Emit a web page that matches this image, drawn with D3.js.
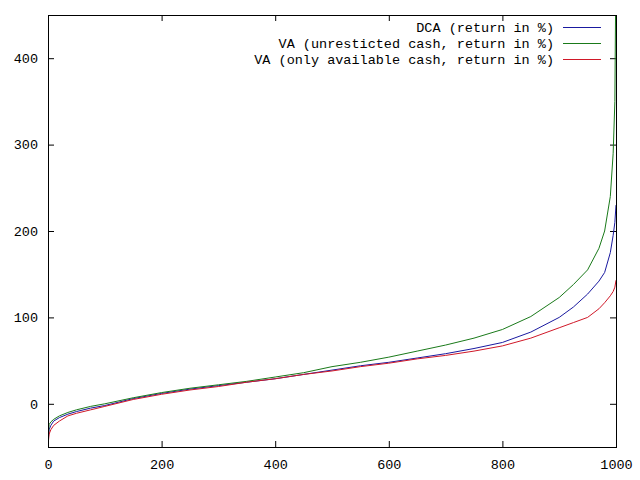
<!DOCTYPE html>
<html>
<head>
<meta charset="utf-8">
<script src="https://cdn.jsdelivr.net/npm/d3@7"></script>
<style>
  body { margin: 0; background: #fff; }
  text { font-family: "Liberation Mono", "DejaVu Sans Mono", monospace; font-size: 13.5px; fill: #000; }
</style>
</head>
<body>
<div id="chart"></div>
<script>
// sample index (the runs are sorted by return)
var run_index = [0, 2, 5, 10, 20, 35, 50, 75, 100, 150, 200, 250, 300, 350, 400, 450, 500,
                 550, 600, 650, 700, 750, 800, 850, 900, 925, 950, 970, 980, 990, 995, 998, 1000];
var dca_return = [-45, -30, -25, -20, -16, -12, -9, -5, -2, 6, 12, 17, 21, 25, 29, 34, 39,
                  44, 48, 53, 58, 64, 71, 83, 100, 112, 127, 142, 152, 175, 195, 210, 230];
var va_unrestricted = [-40, -24, -21, -18, -14, -10, -7, -3, 0, 7, 13, 18, 22, 26, 31, 36, 43,
                       48, 54, 61, 68, 76, 86, 101, 123, 138, 155, 180, 200, 240, 290, 350, 520];
var va_available = [-48, -35, -30, -25, -20, -14, -11, -7, -3, 5, 11, 16, 20, 25, 29, 34, 38,
                    43, 47, 52, 56, 61, 67, 76, 88, 94, 100, 110, 117, 125, 130, 135, 143];

var series_names = ["DCA (return in %)", "VA (unresticted cash, return in %)", "VA (only available cash, return in %)"];
var series_colors = ["#1a1aa0", "#1a7a1a", "#d01828"];
var x_ticks = [0, 200, 400, 600, 800, 1000];
var y_ticks = [0, 100, 200, 300, 400];

var series = [dca_return, va_unrestricted, va_available];

// set the dimensions and margins of the graph
var width = 640,
    height = 480,
    margin = {top: 15, right: 24, bottom: 33, left: 48};

var svg = d3.select("#chart")
  .append("svg")
    .attr("width", width)
    .attr("height", height);

var x = d3.scaleLinear()
  .domain([0, 1000])
  .range([margin.left, width - margin.right]);

var y = d3.scaleLinear()
  .domain([-50, 450])
  .range([height - margin.bottom, margin.top]);

svg.append("clipPath")
    .attr("id", "plot_clip")
  .append("rect")
    .attr("x", x(0))
    .attr("y", y(450))
    .attr("width", x(1000) - x(0))
    .attr("height", y(-50) - y(450));

// ticks on all four sides, pointing in
var tick = 6;
svg.append("g")
    .attr("transform", "translate(0," + y(-50) + ")")
    .call(d3.axisBottom(x).tickValues(x_ticks).tickSize(-tick).tickPadding(12).tickFormat(d3.format("d")))
    .call(function(g) { g.select(".domain").remove(); });

svg.append("g")
    .attr("transform", "translate(0," + y(450) + ")")
    .call(d3.axisTop(x).tickValues(x_ticks).tickSize(-tick).tickFormat(""))
    .call(function(g) { g.select(".domain").remove(); });

svg.append("g")
    .attr("transform", "translate(" + x(0) + ",0)")
    .call(d3.axisLeft(y).tickValues(y_ticks).tickSize(-tick).tickPadding(10).tickFormat(d3.format("d")))
    .call(function(g) { g.select(".domain").remove(); });

svg.append("g")
    .attr("transform", "translate(" + x(1000) + ",0)")
    .call(d3.axisRight(y).tickValues(y_ticks).tickSize(-tick).tickFormat(""))
    .call(function(g) { g.select(".domain").remove(); });

svg.selectAll(".tick text")
    .style("font-family", "'Liberation Mono', 'DejaVu Sans Mono', monospace")
    .style("font-size", "13.5px")
    .attr("fill", "#000");
svg.selectAll(".tick line").attr("stroke", "#000");

// the curves
var line = d3.line()
  .x(function(d, i) { return x(run_index[i]); })
  .y(function(d) { return y(d); });

svg.append("g")
    .attr("clip-path", "url(#plot_clip)")
  .selectAll("path")
  .data(series)
  .enter()
  .append("path")
    .attr("d", line)
    .attr("fill", "none")
    .style("stroke", function(d, i) { return series_colors[i]; })
    .attr("stroke-width", 1);

// frame
svg.append("rect")
    .attr("x", x(0) + 0.5)
    .attr("y", y(450) + 0.5)
    .attr("width", x(1000) - x(0))
    .attr("height", y(-50) - y(450))
    .attr("fill", "none")
    .attr("stroke", "#000");

// legend, top right
var legend = svg.append("g")
  .selectAll("g")
  .data(series_names)
  .enter()
  .append("g")
    .attr("transform", function(d, i) { return "translate(0," + (27 + i * 16) + ")"; });

legend.append("text")
    .attr("x", 554)
    .attr("dy", "0.35em")
    .attr("text-anchor", "end")
    .text(function(d) { return d; });

legend.append("rect")
    .attr("x", 563)
    .attr("y", 0)
    .attr("width", 38)
    .attr("height", 1)
    .style("fill", function(d, i) { return series_colors[i]; });
</script>
</body>
</html>
